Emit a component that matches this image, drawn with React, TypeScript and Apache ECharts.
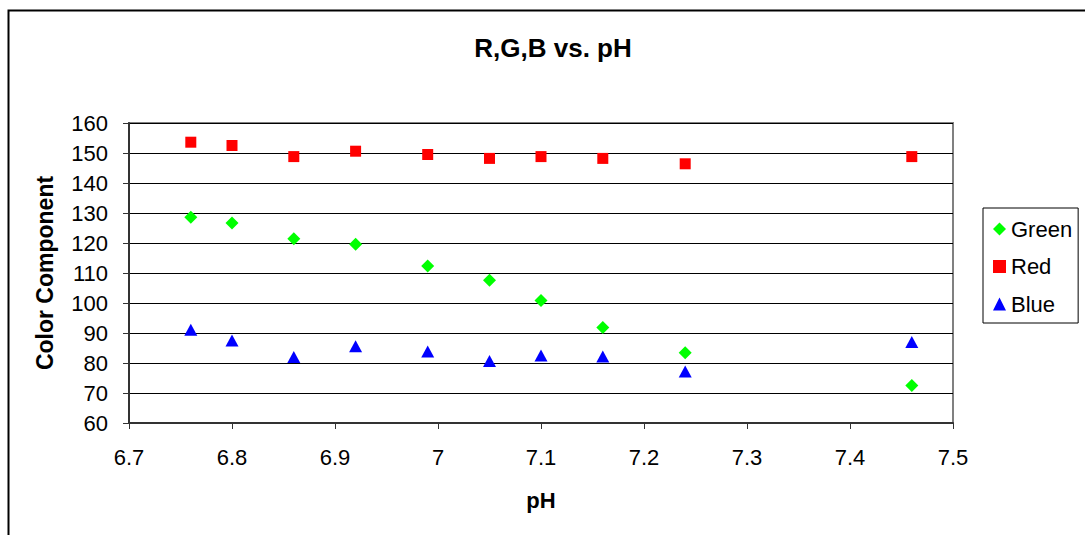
import React, { useEffect, useRef } from "react";
import * as echarts from "echarts";

const pH = [6.76, 6.8, 6.86, 6.92, 6.99, 7.05, 7.1, 7.16, 7.24, 7.46];
const greenValues = [128.6, 126.7, 121.4, 119.6, 112.3, 107.6, 100.8, 91.8, 83.4, 72.5];
const redValues = [153.6, 152.5, 148.8, 150.6, 149.5, 148.2, 148.8, 148.2, 146.4, 148.8];
const blueValues = [91.1, 87.5, 82.0, 85.6, 83.8, 80.7, 82.5, 82.2, 77.2, 87.0];
const seriesNames = ["Green", "Red", "Blue"];
const titleText = "R,G,B vs. pH";
const xAxisTitle = "pH";
const yAxisTitle = "Color Component";

const FONT = "'Liberation Sans', Arial, sans-serif";

export default function App() {
  const ref = useRef<HTMLDivElement>(null);
  useEffect(() => {
    if (!ref.current) return;
    const chart = echarts.init(ref.current, null, { renderer: "svg" });
    const pair = (vals: number[]) => pH.map((x, i) => [x, vals[i]]);
    chart.setOption({
      animation: false,
      backgroundColor: "#fff",
      textStyle: { fontFamily: FONT },
      graphic: [
        {
          type: "rect",
          shape: { x: 8.5, y: 10.5, width: 1200, height: 700 },
          style: { fill: "none", stroke: "#000", lineWidth: 2 },
          silent: true,
        },
        {
          type: "text",
          x: 553,
          y: 48,
          style: {
            text: titleText,
            font: `bold 26px ${FONT}`,
            fill: "#000",
            textAlign: "center",
            textVerticalAlign: "middle",
          },
        },
      ],
      grid: {
        left: 129,
        top: 123,
        right: 132,
        bottom: 112,
        show: true,
        borderColor: "#808080",
        borderWidth: 2,
      },
      legend: {
        orient: "vertical",
        left: 983,
        top: 208,
        padding: [10, 6, 8, 10],
        itemGap: 15.5,
        itemWidth: 13,
        itemHeight: 13,
        borderColor: "#000",
        borderWidth: 1,
        data: seriesNames,
        textStyle: { fontSize: 22, fontFamily: FONT, color: "#000", lineHeight: 22 },
      },
      xAxis: {
        type: "value",
        min: 6.7,
        max: 7.5,
        interval: 0.1,
        name: xAxisTitle,
        nameLocation: "middle",
        nameGap: 66,
        nameTextStyle: { fontSize: 22, fontWeight: "bold", color: "#000", fontFamily: FONT },
        axisLine: { show: true, lineStyle: { color: "#333", width: 2 } },
        axisTick: { show: true, length: 6, lineStyle: { color: "#333", width: 1 } },
        axisLabel: {
          fontSize: 22,
          color: "#000",
          margin: 23,
          fontFamily: FONT,
          formatter: (v: number) => String(Math.round(v * 10) / 10),
        },
        splitLine: { show: false },
      },
      yAxis: {
        type: "value",
        min: 60,
        max: 160,
        interval: 10,
        name: yAxisTitle,
        nameLocation: "middle",
        nameRotate: 90,
        nameGap: 73,
        nameTextStyle: { fontSize: 23, fontWeight: "bold", color: "#000", fontFamily: FONT },
        axisLine: { show: true, lineStyle: { color: "#333", width: 2 } },
        axisTick: { show: true, length: 6, lineStyle: { color: "#333", width: 1 } },
        axisLabel: { fontSize: 22, color: "#000", margin: 21, fontFamily: FONT },
        splitLine: { show: true, lineStyle: { color: "#000", width: 1 } },
      },
      series: [
        {
          name: seriesNames[0],
          type: "scatter",
          symbol: "diamond",
          symbolSize: 13,
          itemStyle: { color: "#00FF00", opacity: 1 },
          data: pair(greenValues),
        },
        {
          name: seriesNames[1],
          type: "scatter",
          symbol: "rect",
          symbolSize: 11,
          itemStyle: { color: "#FF0000", opacity: 1 },
          data: pair(redValues),
        },
        {
          name: seriesNames[2],
          type: "scatter",
          symbol: "triangle",
          symbolSize: [13, 12],
          itemStyle: { color: "#0000FF", opacity: 1 },
          data: pair(blueValues),
        },
      ],
    });
    return () => chart.dispose();
  }, []);
  return (
    <div
      ref={ref}
      style={{ position: "absolute", left: 0, top: 0, width: 1085, height: 535 }}
    />
  );
}
